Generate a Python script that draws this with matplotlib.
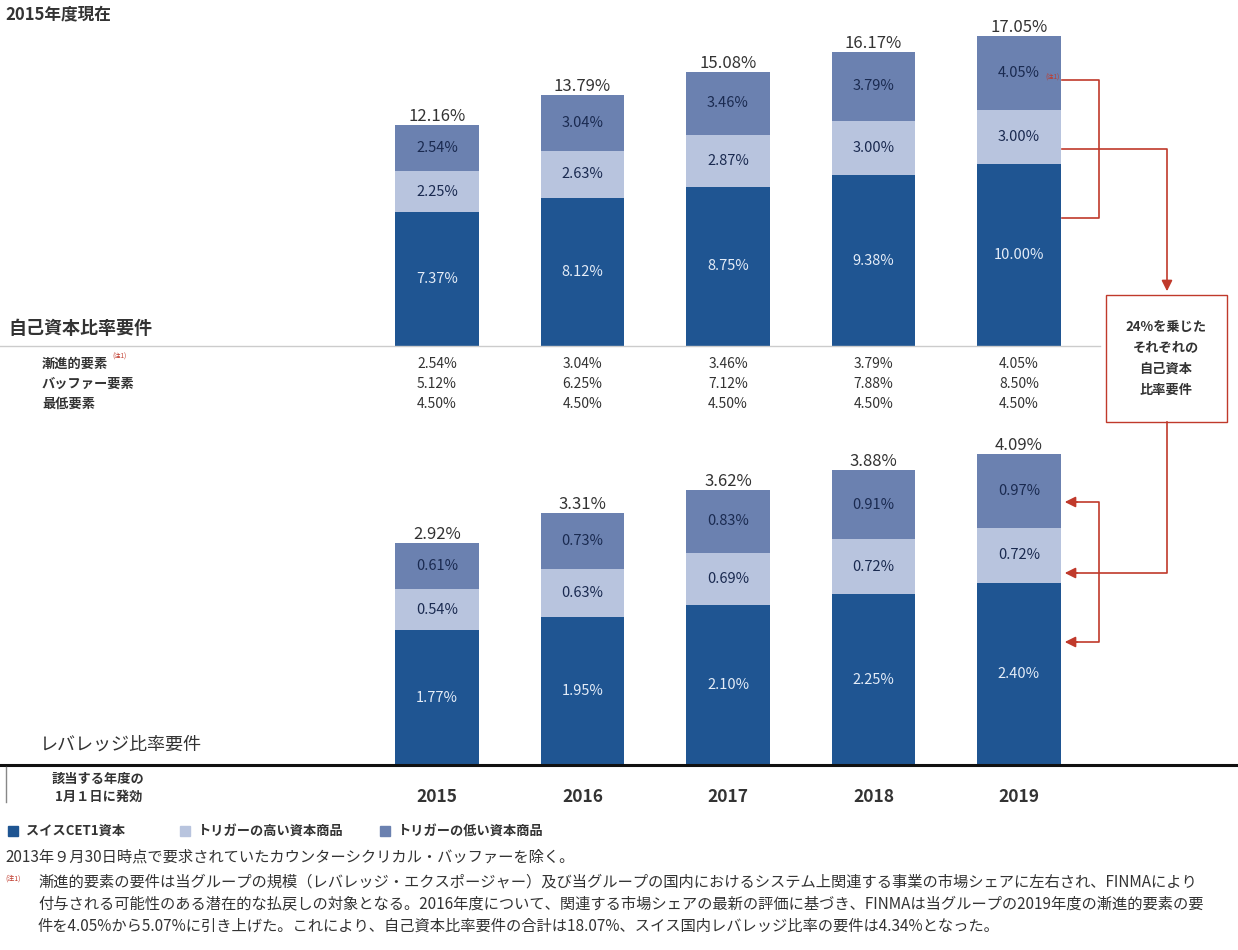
import numpy as np
import matplotlib
matplotlib.use('Agg')
import matplotlib.pyplot as plt
from matplotlib.patches import Rectangle

plt.rcParams['font.family'] = ['Noto Sans CJK JP', 'DejaVu Sans']

# Data
years = ['2015', '2016', '2017', '2018', '2019']
cap_cet1 = [7.37, 8.12, 8.75, 9.38, 10.00]
cap_high = [2.25, 2.63, 2.87, 3.00, 3.00]
cap_low = [2.54, 3.04, 3.46, 3.79, 4.05]
cap_total = [12.16, 13.79, 15.08, 16.17, 17.05]

lev_cet1 = [1.77, 1.95, 2.10, 2.25, 2.40]
lev_high = [0.54, 0.63, 0.69, 0.72, 0.72]
lev_low = [0.61, 0.73, 0.83, 0.91, 0.97]
lev_total = [2.92, 3.31, 3.62, 3.88, 4.09]

row_labels = ['漸進的要素', 'バッファー要素', '最低要素']
row_progressive = [2.54, 3.04, 3.46, 3.79, 4.05]
row_buffer = [5.12, 6.25, 7.12, 7.88, 8.50]
row_minimum = [4.50, 4.50, 4.50, 4.50, 4.50]

legend_labels = ['スイスCET1資本', 'トリガーの高い資本商品', 'トリガーの低い資本商品']

# Colours
c_cet1 = '#1f5592'
c_high = '#b8c4de'
c_low = '#6b81b0'
c_dark = '#1a2a50'
c_white = '#e4ecf7'
red = '#c0392b'
txt = '#333333'

W, H = 1238, 950
fig = plt.figure(figsize=(W/100, H/100), dpi=100)
fig.patch.set_facecolor('white')

def axes_px(left, top, width, height):
    return fig.add_axes([left/W, 1 - (top + height)/H, width/W, height/H])

x = np.arange(len(years))
bw = 0.575
spacing = 145.5
ax_left = 437 - spacing/2
ax_width = spacing*5


def draw_stack(ax, cet1, high, low, total, fs_in, fs_tot):
    ax.bar(x, cet1, bw, color=c_cet1)
    ax.bar(x, high, bw, bottom=cet1, color=c_high)
    b2 = np.array(cet1) + np.array(high)
    ax.bar(x, low, bw, bottom=b2, color=c_low)
    for i in range(len(x)):
        ax.text(x[i], cet1[i]/2, f'{cet1[i]:.2f}%', ha='center', va='center',
                color=c_white, fontsize=fs_in)
        ax.text(x[i], cet1[i] + high[i]/2, f'{high[i]:.2f}%', ha='center', va='center',
                color=c_dark, fontsize=fs_in)
        ax.text(x[i], b2[i] + low[i]/2, f'{low[i]:.2f}%', ha='center', va='center',
                color=c_dark, fontsize=fs_in)
        ax.text(x[i], total[i], f'{total[i]:.2f}%', ha='center', va='bottom',
                color=txt, fontsize=fs_tot)
    ax.set_xlim(-0.5, 4.5)
    ax.axis('off')


# Top chart: capital ratio
ax1 = axes_px(ax_left, 20, ax_width, 326)
draw_stack(ax1, cap_cet1, cap_high, cap_low, cap_total, 10.5, 12)
ax1.set_ylim(0, 326/18.18)

# Bottom chart: leverage ratio
ax2 = axes_px(ax_left, 440, ax_width, 325)
draw_stack(ax2, lev_cet1, lev_high, lev_low, lev_total, 10.5, 12)
ax2.set_ylim(0, 325/76.0)

# Overlay for text and connectors (pixel coordinates)
ov = fig.add_axes([0, 0, 1, 1])
ov.set_xlim(0, W)
ov.set_ylim(H, 0)
ov.axis('off')
ov.patch.set_alpha(0)

ov.text(5, 14, '2015年度現在', fontsize=12, fontweight='bold', color=txt, va='center')
ov.text(8, 328, '自己資本比率要件', fontsize=13, fontweight='bold', color=txt, va='center')
ov.plot([0, 1100], [346, 346], color='#cccccc', lw=1)

row_y = [364, 384, 404]
rows = [row_progressive, row_buffer, row_minimum]
for ry, lab, vals in zip(row_y, row_labels, rows):
    ov.text(42, ry, lab, fontsize=9.5, fontweight='bold', color=txt, va='center')
    for i, v in enumerate(vals):
        ov.text(437 + spacing*i, ry, f'{v:.2f}%', fontsize=10, color=txt,
                ha='center', va='center')
ov.text(112, 357, '(注1)', fontsize=4.5, color=red, va='center')
ov.text(1045, 78, '(注1)', fontsize=4.5, color=red, va='center')

ov.text(40, 745, 'レバレッジ比率要件', fontsize=13, color=txt, va='center')
ov.plot([0, W], [765, 765], color='#111111', lw=2.2)
ov.plot([6, 6], [767, 802], color='#888888', lw=1)
ov.text(52, 779, '該当する年度の', fontsize=9.5, fontweight='bold', color=txt, va='center')
ov.text(52, 797, ' 1月１日に発効', fontsize=9.5, fontweight='bold', color=txt, va='center')
for i, yr in enumerate(years):
    ov.text(437 + spacing*i, 797, yr, fontsize=12.5, fontweight='bold', color=txt,
            ha='center', va='center')

# Legend
leg_x = [8, 180, 380]
for lx, lab, col in zip(leg_x, legend_labels, [c_cet1, c_high, c_low]):
    ov.add_patch(Rectangle((lx, 826), 10, 10, color=col))
    ov.text(lx + 18, 831, lab, fontsize=9.5, fontweight='bold', color=txt, va='center')

# Footnotes
ov.text(5, 857, '2013年９月30日時点で要求されていたカウンターシクリカル・バッファーを除く。',
        fontsize=11, color=txt, va='center')
ov.text(5, 879, '(注1)', fontsize=5, color=red, va='center')
notes = [
    '漸進的要素の要件は当グループの規模（レバレッジ・エクスポージャー）及び当グループの国内におけるシステム上関連する事業の市場シェアに左右され、FINMAにより',
    '付与される可能性のある潜在的な払戻しの対象となる。2016年度について、関連する市場シェアの最新の評価に基づき、FINMAは当グループの2019年度の漸進的要素の要',
    '件を4.05%から5.07%に引き上げた。これにより、自己資本比率要件の合計は18.07%、スイス国内レバレッジ比率の要件は4.34%となった。',
]
for j, line in enumerate(notes):
    ov.text(38, 882 + 22*j, line, fontsize=11, color=txt, va='center', clip_on=True)

# Red connectors
lw = 1.2
ov.plot([1062, 1099, 1099, 1062], [80, 80, 218, 218], color=red, lw=lw)
ov.plot([1062, 1167, 1167], [149, 149, 280], color=red, lw=lw)
ov.annotate('', xy=(1167, 294), xytext=(1167, 278),
            arrowprops=dict(arrowstyle='-|>', color=red, lw=lw, mutation_scale=16))
ov.add_patch(Rectangle((1106, 295), 121, 127, facecolor='white', edgecolor=red, lw=1))
box_lines = ['24%を乗じた', 'それぞれの', '自己資本', '比率要件']
for k, bl in enumerate(box_lines):
    ov.text(1166, 327 + 21*k, bl, fontsize=9.5, fontweight='bold', color=txt,
            ha='center', va='center')
ov.plot([1167, 1167, 1075], [422, 573, 573], color=red, lw=lw)
ov.plot([1075, 1099, 1099, 1075], [502, 502, 642, 642], color=red, lw=lw)
for ay in [502, 573, 642]:
    ov.annotate('', xy=(1062, ay), xytext=(1080, ay),
                arrowprops=dict(arrowstyle='-|>', color=red, lw=lw, mutation_scale=16))

fig.savefig('out.png', dpi=100)
